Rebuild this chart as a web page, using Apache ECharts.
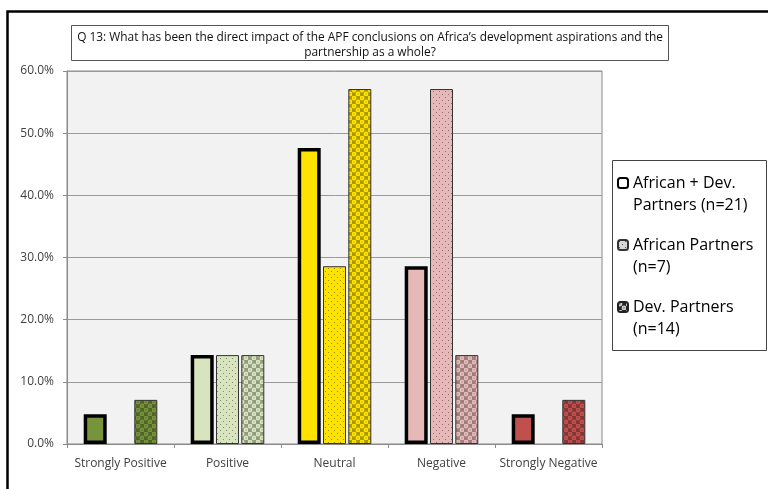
<!DOCTYPE html>
<html>
<head>
<meta charset="utf-8">
<script src="https://cdn.jsdelivr.net/npm/echarts@6/dist/echarts.min.js"></script>
<style>
html,body{margin:0;padding:0;background:#fff;}
#chart{width:768px;height:489px;}
</style>
</head>
<body>
<div id="chart"></div>
<script>
// Survey answer categories and the share (%) of respondents per group
const categories = ['Strongly Positive', 'Positive', 'Neutral', 'Negative', 'Strongly Negative'];
const seriesNames = ['African + Dev.\nPartners (n=21)', 'African Partners\n(n=7)', 'Dev. Partners\n(n=14)'];
const allPartners = [4.8, 14.3, 47.6, 28.6, 4.8];
const africanPartners = [0, 14.3, 28.6, 57.1, 0];
const devPartners = [7.1, 14.3, 57.1, 14.3, 7.1];
const yTicks = [0, 10, 20, 30, 40, 50, 60];
const categoryColors = ['#77933C', '#D7E4BD', '#FFE200', '#E6B9B8', '#C0504D'];
const questionText = 'Q 13: What has been the direct impact of the APF conclusions on Africa\u2019s development aspirations and the\npartnership as a whole?';

function shade(hex, f) {
  const n = parseInt(hex.slice(1), 16);
  const r = Math.round(((n >> 16) & 255) * f);
  const g = Math.round(((n >> 8) & 255) * f);
  const b = Math.round((n & 255) * f);
  return 'rgb(' + r + ',' + g + ',' + b + ')';
}

// fine dotted fill
function dotPattern(base, dot) {
  const c = document.createElement('canvas');
  c.width = 6; c.height = 6;
  const x = c.getContext('2d');
  x.fillStyle = base; x.fillRect(0, 0, 6, 6);
  x.fillStyle = dot || shade(base, 0.6);
  x.fillRect(1, 1, 1, 1);
  x.fillRect(4, 4, 1, 1);
  return { image: c, repeat: 'repeat' };
}

// checker of rings fill
function ringPattern(base, dark) {
  const c = document.createElement('canvas');
  c.width = 8; c.height = 8;
  const x = c.getContext('2d');
  const d = dark || shade(base, 0.68);
  x.fillStyle = d; x.fillRect(0, 0, 8, 8);
  x.fillStyle = base;
  x.beginPath(); x.arc(2, 2, 2.4, 0, Math.PI * 2); x.fill();
  x.beginPath(); x.arc(6, 6, 2.4, 0, Math.PI * 2); x.fill();
  x.fillStyle = d;
  x.fillRect(1.5, 1.5, 1, 1);
  x.fillRect(5.5, 5.5, 1, 1);
  return { image: c, repeat: 'repeat' };
}

function barData(values, kind) {
  return values.map(function (v, i) {
    const base = categoryColors[i];
    let style;
    if (kind === 'solid') {
      style = { color: base, borderColor: '#000', borderWidth: v ? 3.5 : 0 };
    } else if (kind === 'dots') {
      style = { color: dotPattern(base), borderColor: '#333', borderWidth: v ? 1 : 0 };
    } else {
      style = { color: ringPattern(base), borderColor: '#333', borderWidth: v ? 1 : 0 };
    }
    return { value: v, itemStyle: style };
  });
}

const chart = echarts.init(document.getElementById('chart'));
const axisFont = '"Open Sans", Lato, sans-serif';

chart.setOption({
  animation: false,
  backgroundColor: '#fff',
  grid: {
    left: 67, right: 166, top: 71, bottom: 45,
    show: true, backgroundColor: '#F2F2F2', borderColor: '#8a8a8a', borderWidth: 1
  },
  xAxis: {
    type: 'category',
    data: categories,
    axisLine: { lineStyle: { color: '#8a8a8a', width: 1 } },
    axisTick: { show: true, length: 4, lineStyle: { color: '#8a8a8a' } },
    axisLabel: { color: '#404040', fontFamily: axisFont, fontSize: 12, margin: 14, interval: 0 }
  },
  yAxis: {
    type: 'value',
    min: yTicks[0], max: yTicks[yTicks.length - 1], interval: yTicks[1] - yTicks[0],
    axisLine: { show: true, lineStyle: { color: '#8a8a8a' } },
    axisTick: { show: true, length: 4, lineStyle: { color: '#8a8a8a' } },
    splitLine: { lineStyle: { color: '#9a9a9a', width: 1 } },
    axisLabel: {
      color: '#404040', fontFamily: axisFont, fontSize: 12, margin: 13,
      formatter: function (v) { return v.toFixed(1) + '%'; }
    }
  },
  legend: {
    orient: 'vertical',
    left: 617, top: 150,
    padding: 0,
    itemWidth: 10, itemHeight: 10,
    itemGap: -4,
    data: seriesNames,
    formatter: function (name) { return '\n' + name; },
    textStyle: {
      color: '#000', fontFamily: axisFont, fontSize: 16, lineHeight: 22
    }
  },
  graphic: [
    {
      type: 'rect', silent: true, z: -10,
      shape: { x: 7.5, y: 11.5, width: 800, height: 500 },
      style: { fill: 'none', stroke: '#000', lineWidth: 2.5 }
    },
    {
      type: 'rect', silent: true,
      shape: { x: 612.5, y: 160.5, width: 154, height: 190 },
      style: { fill: '#fff', stroke: '#444', lineWidth: 1 }, z: -1
    },
    {
      type: 'rect', silent: true,
      shape: { x: 71.5, y: 25.5, width: 597, height: 35 },
      style: { fill: '#fff', stroke: '#555', lineWidth: 1 }
    },
    {
      type: 'text', silent: true,
      x: 370, y: 30.5,
      style: {
        text: questionText, fill: '#111', font: '11.9px ' + axisFont,
        align: 'center', lineHeight: 14.5
      }
    }
  ],
  series: [
    {
      name: seriesNames[0], type: 'bar', barWidth: 23, barGap: '10%',
      itemStyle: { color: '#fff', borderColor: '#000', borderWidth: 3 },
      data: barData(allPartners, 'solid')
    },
    {
      name: seriesNames[1], type: 'bar', barWidth: 23, barGap: '10%',
      itemStyle: { color: dotPattern('#d8d8d8', '#555'), borderColor: '#333', borderWidth: 1 },
      data: barData(africanPartners, 'dots')
    },
    {
      name: seriesNames[2], type: 'bar', barWidth: 23, barGap: '10%',
      itemStyle: { color: ringPattern('#cfcfcf', '#222'), borderColor: '#222', borderWidth: 1 },
      data: barData(devPartners, 'rings')
    }
  ]
});
</script>
</body>
</html>
